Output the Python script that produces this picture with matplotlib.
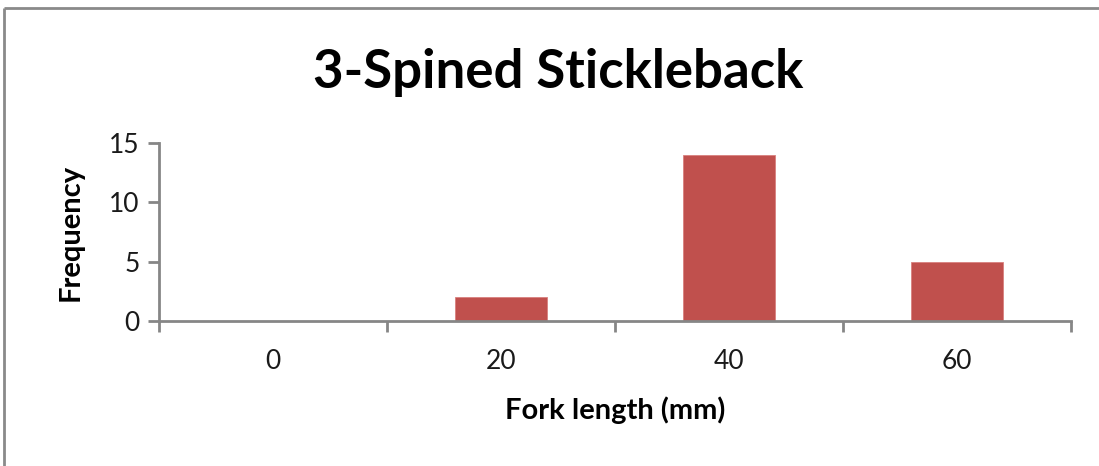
import matplotlib
matplotlib.use("Agg")
import matplotlib.pyplot as plt
from matplotlib.lines import Line2D

plt.rcParams['font.family'] = ['Lato', 'DejaVu Sans']

# data
lengths = ["0", "20", "40", "60"]
frequency = [0, 2, 14, 5]
y_ticks = [0, 5, 10, 15]

bar_color = "#C0504D"
axis_color = "#868686"
text_color = "#1a1a1a"

fig = plt.figure(figsize=(10.99, 4.66), dpi=100)
ax = fig.add_axes([0.1447, 0.3112, 0.8298, 0.3819])

x = list(range(len(lengths)))
ax.bar(x, frequency, width=0.4, color=bar_color, edgecolor="#D9807E", linewidth=0.6)

ax.set_xlim(-0.5, len(lengths) - 0.5)
ax.set_ylim(0, 15)
ax.set_yticks(y_ticks)
ax.set_xticks(x)
ax.set_xticklabels(lengths)
ax.set_xticks([i - 0.5 for i in range(len(lengths) + 1)], minor=True)

for s in ["top", "right"]:
    ax.spines[s].set_visible(False)
for s in ["left", "bottom"]:
    ax.spines[s].set_color(axis_color)
    ax.spines[s].set_linewidth(2)

ax.tick_params(axis="x", which="major", length=0, labelsize=19, pad=20, colors=text_color)
ax.tick_params(axis="x", which="minor", length=8, width=2, color=axis_color, direction="out")
ax.tick_params(axis="y", length=8, width=2, color=axis_color, labelsize=19, pad=6, labelcolor=text_color)

ax.set_xlabel("Fork length (mm)", fontsize=21, fontweight="bold", labelpad=16, color="black")
ax.set_ylabel("Frequency", fontsize=21, fontweight="bold", labelpad=18, color="black")

fig.text(0.508, 0.845, "3-Spined Stickleback", ha="center", va="center",
         fontsize=38, fontweight="bold")

# chart frame
fig.add_artist(Line2D([0.0036, 1.0], [0.983, 0.983], transform=fig.transFigure,
                      color="#8A8A8A", lw=2, solid_capstyle="butt"))
fig.add_artist(Line2D([0.0036, 0.0036], [0.0, 0.983], transform=fig.transFigure,
                      color="#8A8A8A", lw=2, solid_capstyle="butt"))

fig.savefig("out.png", dpi=100)
